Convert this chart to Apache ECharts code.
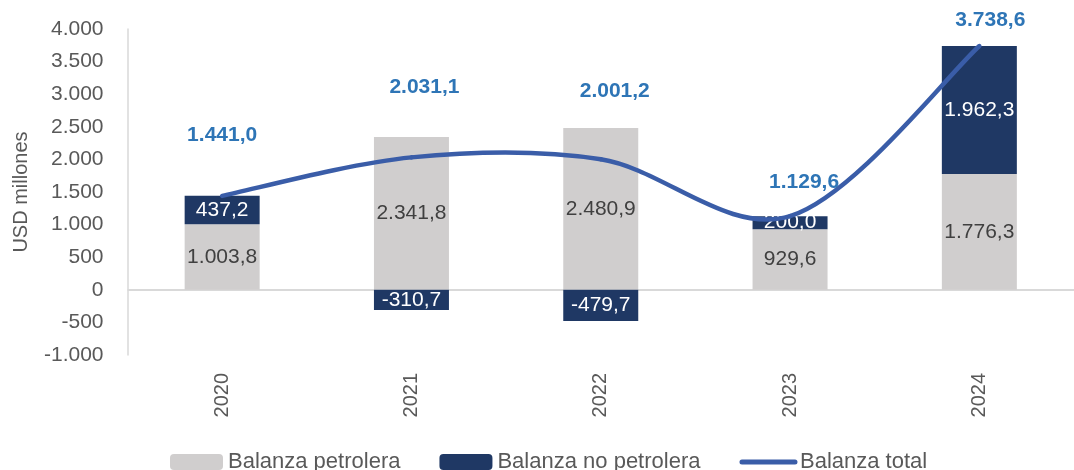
<!DOCTYPE html>
<html>
<head>
<meta charset="utf-8">
<script src="https://cdn.jsdelivr.net/npm/echarts@6/dist/echarts.min.js"></script>
<style>
html,body{margin:0;padding:0;background:#fff;}
#chart{width:1074px;height:470px;}
</style>
</head>
<body>
<div id="chart"></div>
<script>
var categories = ['2020', '2021', '2022', '2023', '2024'];
var petrolera = [1003.8, 2341.8, 2480.9, 929.6, 1776.3];
var noPetrolera = [437.2, -310.7, -479.7, 200.0, 1962.3];
var total = [1441.0, 2031.1, 2001.2, 1129.6, 3738.6];
var seriesNames = ['Balanza petrolera', 'Balanza no petrolera', 'Balanza total'];
var yTicks = { min: -1000, max: 4000, interval: 500 };

var FONT = 'Liberation Sans';
var LINE_COLOR = '#3A5DA8';

function fmtNum(v, dec) {
  var neg = v < 0;
  var s = Math.abs(v).toFixed(dec);
  var parts = s.split('.');
  var intp = parts[0].replace(/\B(?=(\d{3})+(?!\d))/g, '.');
  var out = intp + (parts.length > 1 ? ',' + parts[1] : '');
  return (neg ? '-' : '') + out;
}

// label placements for total line (style, not data)
var totalLabelOffsets = [[0, -61], [13, -70], [14, -68], [14, -34], [11, -26]];
var totalData = total.map(function (v, i) {
  return { value: v, label: { offset: totalLabelOffsets[i] } };
});

// Excel-like smoothed curve (Catmull-Rom -> cubic Bezier) through the library's coordinates
function renderCurve(params, api) {
  if (params.dataIndex !== 0) return null;
  var pts = total.map(function (v, i) { return api.coord([i, v]); });
  var children = [];
  for (var i = 0; i < pts.length - 1; i++) {
    var p0 = pts[i > 0 ? i - 1 : i];
    var p1 = pts[i];
    var p2 = pts[i + 1];
    var p3 = pts[i + 2 < pts.length ? i + 2 : i + 1];
    children.push({
      type: 'bezierCurve',
      shape: {
        x1: p1[0], y1: p1[1],
        x2: p2[0], y2: p2[1],
        cpx1: p1[0] + (p2[0] - p0[0]) / 6, cpy1: p1[1] + (p2[1] - p0[1]) / 6,
        cpx2: p2[0] - (p3[0] - p1[0]) / 6, cpy2: p2[1] - (p3[1] - p1[1]) / 6
      },
      style: { stroke: LINE_COLOR, lineWidth: 4.5, fill: null, lineCap: 'round' }
    });
  }
  return { type: 'group', children: children };
}

var chart = echarts.init(document.getElementById('chart'));
chart.setOption({
  animation: false,
  backgroundColor: '#ffffff',
  grid: { left: 127.5, right: -4, top: 29, bottom: 115, containLabel: false },
  legend: {
    data: [
      seriesNames[0],
      seriesNames[1],
      { name: seriesNames[2], itemStyle: { opacity: 0 }, lineStyle: { color: LINE_COLOR, width: 5, opacity: 1, cap: 'round' } }
    ],
    left: 165,
    top: 446,
    itemWidth: 53,
    itemHeight: 16,
    itemGap: 39,
    textStyle: { fontFamily: FONT, fontSize: 22, color: '#595959' }
  },
  xAxis: {
    type: 'category',
    data: categories,
    axisLine: { show: false, onZero: false },
    axisTick: { show: false },
    axisLabel: { rotate: 90, margin: 18, fontFamily: FONT, fontSize: 20, color: '#595959' },
    splitLine: { show: false }
  },
  yAxis: {
    type: 'value',
    min: yTicks.min,
    max: yTicks.max,
    interval: yTicks.interval,
    name: 'USD millones',
    nameLocation: 'middle',
    nameRotate: 90,
    nameGap: 96,
    nameTextStyle: { fontFamily: FONT, fontSize: 20, color: '#595959' },
    axisLine: { show: true, lineStyle: { color: '#D9D9D9', width: 1.5 } },
    axisTick: { show: false },
    splitLine: { show: false },
    axisLabel: {
      margin: 24,
      fontFamily: FONT, fontSize: 21, color: '#595959',
      formatter: function (v) { return fmtNum(v, 0); }
    }
  },
  series: [
    {
      name: seriesNames[0],
      type: 'bar',
      stack: 'bal',
      barWidth: 75,
      data: petrolera,
      itemStyle: { color: '#D0CECE' },
      label: {
        show: true, position: 'inside',
        fontFamily: FONT, fontSize: 21, color: '#404040',
        formatter: function (p) { return fmtNum(p.value, 1); }
      },
      markLine: {
        silent: true,
        symbol: 'none',
        label: { show: false },
        lineStyle: { color: '#D9D9D9', width: 2, type: 'solid' },
        data: [{ yAxis: 0 }],
        z: 1
      }
    },
    {
      name: seriesNames[1],
      type: 'bar',
      stack: 'bal',
      barWidth: 75,
      data: noPetrolera,
      itemStyle: { color: '#1F3864' },
      label: {
        show: true, position: 'inside',
        fontFamily: FONT, fontSize: 21, color: '#ffffff',
        formatter: function (p) { return fmtNum(p.value, 1); }
      }
    },
    {
      name: 'curve',
      type: 'custom',
      data: total,
      z: 4,
      silent: true,
      renderItem: renderCurve
    },
    {
      name: seriesNames[2],
      type: 'line',
      data: totalData,
      symbol: 'circle',
      symbolSize: 0.5,
      showSymbol: true,
      z: 5,
      lineStyle: { color: LINE_COLOR, width: 5, opacity: 0 },
      itemStyle: { color: 'rgba(0,0,0,0)', borderWidth: 0 },
      label: {
        show: true, position: 'inside',
        fontFamily: FONT, fontSize: 21, fontWeight: 'bold', color: '#2E75B6',
        formatter: function (p) { return fmtNum(p.value, 1); }
      }
    }
  ]
});
</script>
</body>
</html>
